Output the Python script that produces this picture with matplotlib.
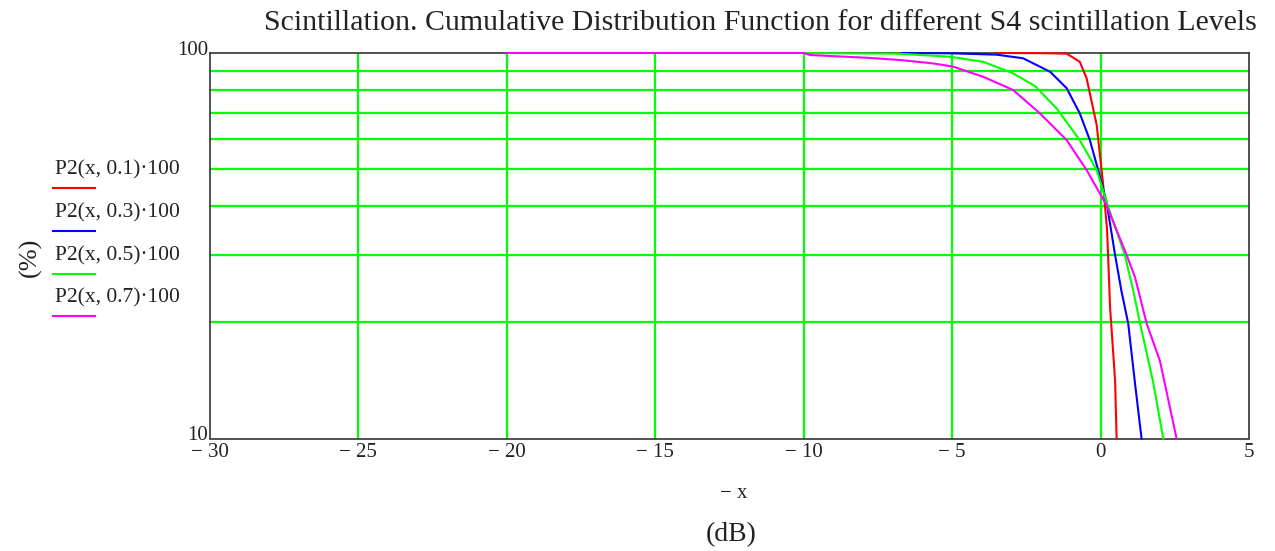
import matplotlib
matplotlib.use('Agg')
import matplotlib.pyplot as plt
from matplotlib.lines import Line2D
from matplotlib.ticker import FixedLocator, NullFormatter

# curves: x in dB, value in %
xRed = [-3.5, -2.0, -1.14, -0.70, -0.47, -0.30, -0.13, -0.02, 0.09, 0.15, 0.22, 0.32, 0.49, 0.54]
yRed = [100.0, 99.9, 99.6, 94.9, 86.0, 74.7, 65.0, 54.3, 45.4, 40.0, 34.7, 21.9, 14.1, 10.0]

xBlue = [-6.7, -5.0, -3.50, -2.61, -1.70, -1.14, -0.70, -0.36, -0.08, 0.20, 0.49, 0.70, 0.93, 1.16, 1.38]
yBlue = [100.0, 99.8, 99.0, 96.9, 89.4, 81.0, 69.7, 59.4, 49.7, 41.1, 29.9, 24.2, 19.9, 13.9, 10.0]

xGreen = [-10.0, -6.8, -5.07, -3.96, -2.95, -2.2, -1.48, -0.70, -0.13, 0.20, 0.82, 1.10, 1.33, 1.78, 2.11]
yGreen = [100.0, 99.6, 97.8, 94.9, 88.6, 82.0, 71.8, 59.4, 49.7, 41.1, 29.9, 24.2, 19.9, 13.9, 10.0]

xMag = [-20.0, -10.0, -9.79, -7.88, -6.76, -5.65, -4.97, -3.96, -2.95, -2.04, -1.14, -0.47, 0.20, 0.88, 1.16, 1.55, 2.0, 2.56]
yMag = [100.0, 100.0, 98.8, 97.2, 95.9, 94.0, 92.2, 86.8, 80.2, 69.7, 59.4, 49.7, 40.3, 29.9, 26.2, 19.9, 15.9, 10.0]

legendLabels = ['P2(x, 0.1)·100', 'P2(x, 0.3)·100', 'P2(x, 0.5)·100', 'P2(x, 0.7)·100']
lineColors = ['#ff0000', '#0000ff', '#00ff00', '#ff00ff']

xTicks = [-30, -25, -20, -15, -10, -5, 0, 5]
xTickLabels = ['− 30', '− 25', '− 20', '− 15', '− 10', '− 5', '0', '5']
yGrid = [20, 30, 40, 50, 60, 70, 80, 90]

plt.rcParams['font.family'] = ['Liberation Serif', 'DejaVu Serif']
textColor = '#222222'

fig = plt.figure(figsize=(12.75, 5.51), dpi=100)
ax = fig.add_axes([210/1275, 1-438.5/551, (1249-210)/1275, (438.5-53)/551])

ax.set_xlim(-30, 5)
ax.set_yscale('log')
ax.set_ylim(10, 100)

for xv in xTicks[1:-1]:
	ax.axvline(xv, color='#00ff00', lw=1.6, zorder=1)
for yv in yGrid:
	ax.axhline(yv, color='#00ff00', lw=1.6, zorder=1)

curves = [(xRed, yRed), (xBlue, yBlue), (xGreen, yGreen), (xMag, yMag)]
for (xs, ys), c in zip(curves, lineColors):
	ax.plot(xs, ys, color=c, lw=1.5, zorder=3, clip_on=False)

ax.set_xticks(xTicks)
ax.set_xticklabels(xTickLabels, fontsize=15, color=textColor)
ax.yaxis.set_major_locator(FixedLocator([10, 100]))
ax.yaxis.set_minor_locator(FixedLocator([]))
ax.yaxis.set_minor_formatter(NullFormatter())
ax.set_yticklabels([])
ax.tick_params(length=0, pad=3)

for sp in ax.spines.values():
	sp.set_color('#333333')
	sp.set_linewidth(1.2)
	sp.set_zorder(2)

# y tick labels sit just above the value, Mathcad style
fig.text(208/1275, 1-55/551, '100', ha='right', va='baseline', fontsize=15, color=textColor)
fig.text(208/1275, 1-440/551, '10', ha='right', va='baseline', fontsize=15, color=textColor)

fig.text(760/1275, 1-30/551, 'Scintillation. Cumulative Distribution Function for different S4 scintillation Levels',
	ha='center', va='baseline', fontsize=21.5, color=textColor)
fig.text(734/1275, 1-493/551, '− x', ha='center', va='center', fontsize=15, color=textColor)
fig.text(731/1275, 1-535/551, '(dB)', ha='center', va='center', fontsize=20, color=textColor)
fig.text(30/1275, 1-257/551, '(%)', ha='center', va='center', rotation=90, fontsize=19, color=textColor)

# legend at the left: label with a short coloured line under it
legendY = [170, 213, 256, 298]
for lbl, c, ly in zip(legendLabels, lineColors, legendY):
	fig.text(55/1275, 1-ly/551, lbl, ha='left', va='center', fontsize=15.5, color=textColor)
	fig.add_artist(Line2D([53/1275, 95/1275], [1-(ly+18)/551, 1-(ly+18)/551], color=c, lw=1.5))

fig.savefig('out.png', dpi=100)
